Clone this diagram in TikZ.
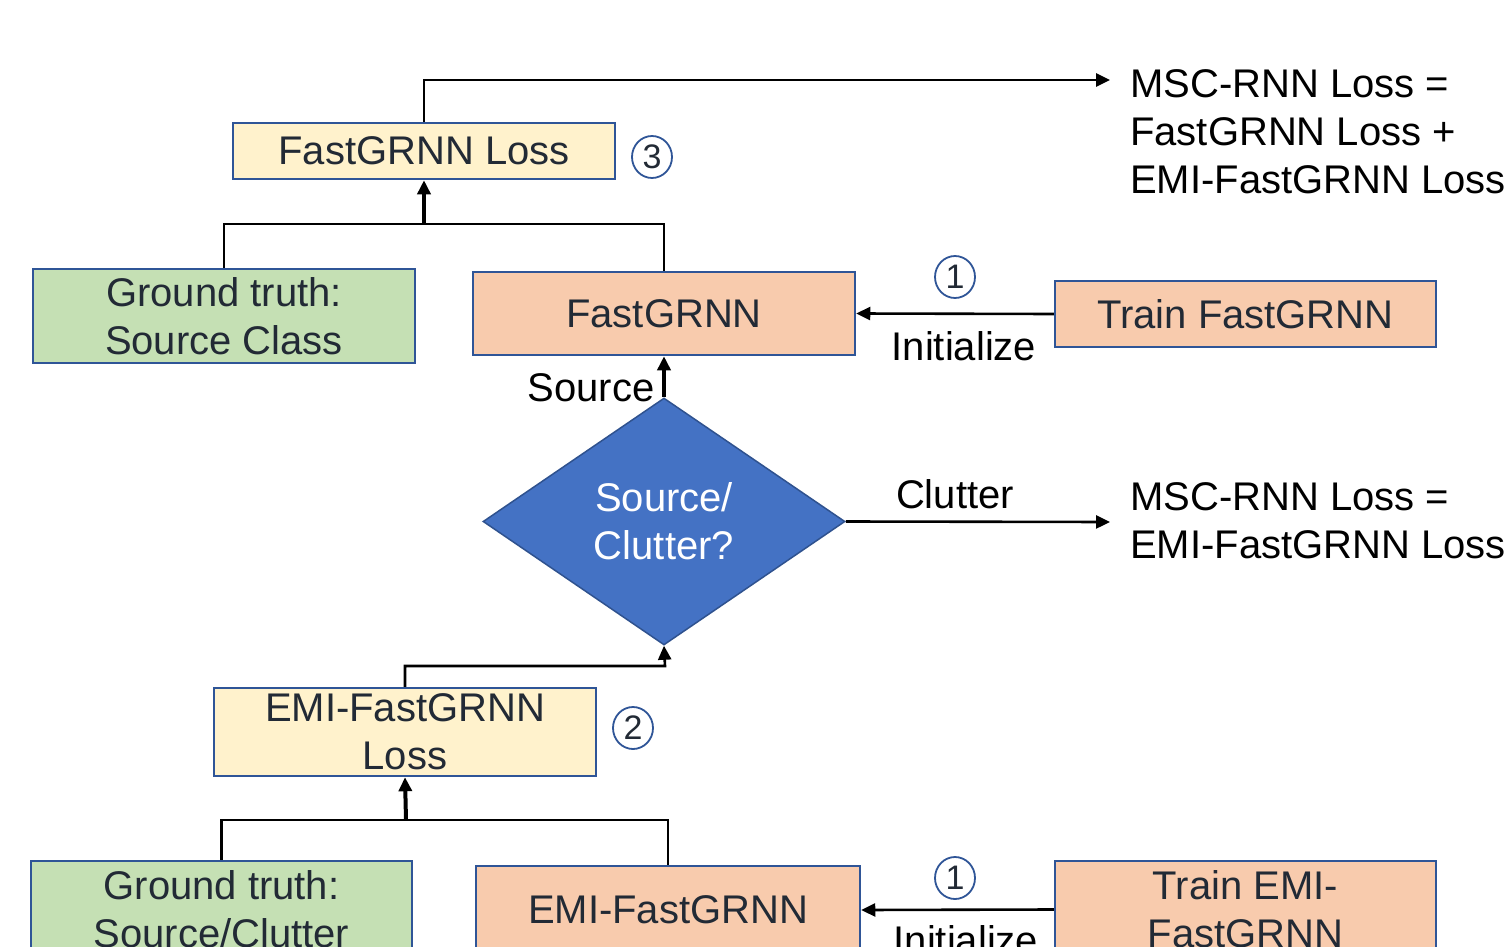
\documentclass[tikz,border=0pt]{standalone}
\usepackage{fontspec}
\setmainfont{Liberation Sans}
\usetikzlibrary{arrows.meta,shapes.geometric}
\definecolor{boxblue}{HTML}{2F5597}
\definecolor{yel}{HTML}{FFF2CC}
\definecolor{grn}{HTML}{C5E0B4}
\definecolor{org}{HTML}{F8CBAD}
\definecolor{dia}{HTML}{4472C4}
\definecolor{diab}{HTML}{2F528F}
\definecolor{txt}{HTML}{222A35}
\begin{document}
\begin{tikzpicture}[x=1pt,y=-1pt,
  big/.style={font=\fontsize{40}{48}\selectfont},
  box/.style={big,draw=boxblue,line width=2.5pt,inner sep=0pt,text=txt,align=center},
  ybox/.style={box,fill=yel},
  gbox/.style={box,fill=grn},
  obox/.style={box,fill=org},
  lbl/.style={big,inner sep=0pt,text=black},
  num/.style={ellipse,draw=boxblue,line width=1.8pt,inner sep=0pt,minimum width=40pt,minimum height=42pt,text=txt,font=\fontsize{34}{40}\selectfont},
  conn/.style={line width=2.6pt,draw=black},
  tip/.style={-{Triangle[length=14pt,width=13pt]}},
  thk/.style={line width=4pt,-{Triangle[length=14pt,width=13pt]}}
]
\useasboundingbox (0,0) rectangle (1505,947);
\clip (0,0) rectangle (1505,947);

% boxes
\node[ybox,minimum width=382pt,minimum height=56pt] (fl) at (424,151) {FastGRNN Loss};
\node[gbox,minimum width=382pt,minimum height=94pt] (gt1) at (224,316) {Ground truth:\\Source Class};
\node[obox,minimum width=382pt,minimum height=83pt] (fg) at (664,313.5) {FastGRNN};
\node[obox,minimum width=381pt,minimum height=66pt] (tf) at (1245.5,314) {Train FastGRNN};
\node[diamond,draw=diab,line width=1.5pt,fill=dia,text=white,big,align=center,inner sep=0pt,
      minimum width=362pt,minimum height=247pt] (d) at (664,521.5) {Source/\\Clutter?};
\node[ybox,minimum width=382pt,minimum height=88pt] (el) at (405,732) {EMI-FastGRNN\\Loss};
\node[gbox,minimum width=381pt,minimum height=96pt] (gt2) at (221.5,909) {Ground truth:\\Source/Clutter};
\node[obox,minimum width=384pt,minimum height=88pt] (efg) at (668,910) {EMI-FastGRNN};
\node[obox,minimum width=381pt,minimum height=97pt] (te) at (1245.5,909.5) {Train EMI-\\FastGRNN};

% circled numbers
\node[num] (n3) at (652,157) {3};
\node[num] (n1a) at (955,277) {1};
\node[num] (n2) at (633,728) {2};
\node[num] (n1b) at (955,878) {1};

% labels
\node[lbl] (ini1) at (964,346) {Initialize};
\node[lbl] (ini2) at (966,940) {Initialize};
\node[lbl] (srcl) at (591,388) {Source};
\node[lbl] (clt) at (955,494) {Clutter};
\node[lbl,anchor=west,align=left] (r1) at (1130,132) {MSC-RNN Loss =\\FastGRNN Loss +\\EMI-FastGRNN Loss};
\node[lbl,anchor=west,align=left] (r2) at (1130,521) {MSC-RNN Loss =\\EMI-FastGRNN Loss};

% coordinates
\coordinate (t1) at (1110,80);
\coordinate (t2) at (1110,522);
\coordinate (j1) at (424,224);
\coordinate (j2) at (406,820);
\coordinate (j3) at (665,666);

% connectors
\draw[conn,tip] (fl.north) |- (t1);
\draw[conn] (gt1.north) |- (j1) -| (fg.north);
\draw[conn,thk] (j1) -- (fl.south);
\draw[conn,thk] (d.north) -- (fg.south);
\draw[conn,tip] (tf.west) -- (fg.east);
\draw[conn,tip] (d.east) -- (t2);
\draw[conn,tip] (el.north) |- (j3) -- (d.south);
\draw[conn] (gt2.north) |- (j2) -| (efg.north);
\draw[conn,thk] (j2) -- (el.south);
\draw[conn,tip] (te.west) -- (efg.east);
\end{tikzpicture}
\end{document}
